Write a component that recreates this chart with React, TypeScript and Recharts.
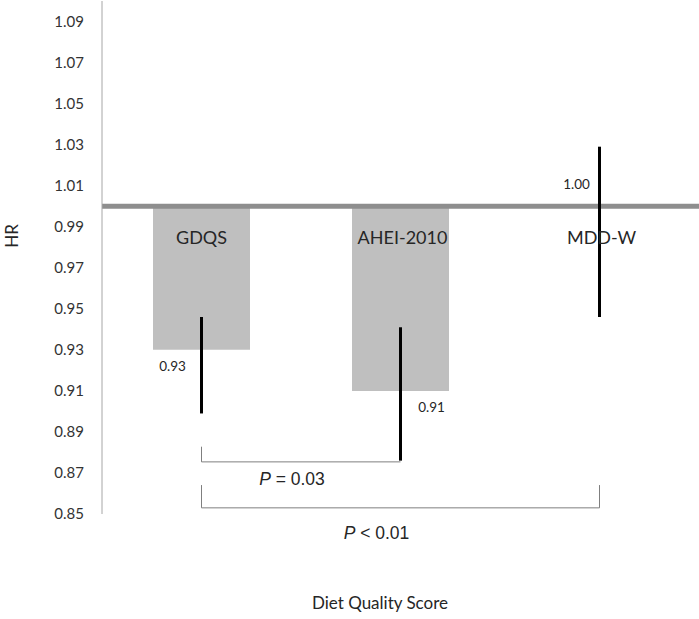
import React from "react";
import {
  ComposedChart,
  Bar,
  Line,
  XAxis,
  YAxis,
  ReferenceLine,
  ErrorBar,
  LabelList,
  Label,
} from "recharts";

// data
const categories = ["GDQS", "AHEI-2010", "MDD-W"];
const hrValues = [0.93, 0.91, 1.0];
const ciLow = [0.899, 0.876, 0.946];
const ciHigh = [0.946, 0.941, 1.029];
const hrLabels = ["0.93", "0.91", "1.00"];
const yTicks = [0.85, 0.87, 0.89, 0.91, 0.93, 0.95, 0.97, 0.99, 1.01, 1.03, 1.05, 1.07, 1.09];
const referenceHR = 1.0;

// comparison brackets: [from, to], line level, tick top, p text
const bracketPairs = [
  ["GDQS", "AHEI-2010"],
  ["GDQS", "MDD-W"],
];
const bracketLevels = [0.8754, 0.853];
const bracketTops = [0.8828, 0.8641];
const bracketTexts = ["= 0.03", "< 0.01"];

// where the small value labels sit relative to the HR point (px)
const valueLabelOffsets = [
  [-29, 16],
  [31, 16],
  [-23, -22],
];
const nameLabelOffsets = [0, 2, 2];
const pTextOffsets = [
  [-9, 17],
  [-24, 25],
];

const calibriLike = "Lato, 'Open Sans', sans-serif";
const arialLike = "'Liberation Sans', Arial, sans-serif";

const data = categories.map((name, i) => ({
  name,
  bar: [hrValues[i], referenceHR],
  hr: hrValues[i],
  baseHR: referenceHR,
  err: [hrValues[i] - ciLow[i], ciHigh[i] - hrValues[i]],
  label: hrLabels[i],
}));

function ValueLabel(props: any) {
  const { x, y, value, index } = props;
  const [dx, dy] = valueLabelOffsets[index] || [0, 0];
  return (
    <text
      x={x + dx}
      y={y + dy}
      textAnchor="middle"
      dominantBaseline="central"
      fontSize={13.5}
      fontFamily={calibriLike}
      fill="#262626"
    >
      {value}
    </text>
  );
}

function NameLabel(props: any) {
  const { x, y, value, index } = props;
  return (
    <text
      x={x + (nameLabelOffsets[index] || 0)}
      y={y + 31}
      textAnchor="middle"
      dominantBaseline="central"
      fontSize={18}
      fontFamily={calibriLike}
      fill="#262626"
    >
      {value}
    </text>
  );
}

function renderP(props: any, i: number) {
  const vb = props.viewBox || {};
  const [dx, dy] = pTextOffsets[i];
  return (
    <text
      x={vb.x + (vb.width || 0) / 2 + dx}
      y={vb.y + dy}
      textAnchor="middle"
      dominantBaseline="central"
      fontSize={17.5}
      fontFamily={arialLike}
      fill="#262626"
    >
      <tspan fontStyle="italic">P</tspan>
      {" " + bracketTexts[i]}
    </text>
  );
}

export default function App() {
  return (
    <div style={{ position: "absolute", left: 0, top: 0, background: "#fff" }}>
      <ComposedChart
        width={699}
        height={619}
        data={data}
        margin={{ top: 1, right: 0, left: 0, bottom: 0 }}
      >
        <XAxis
          dataKey="name"
          type="category"
          tick={false}
          tickLine={false}
          axisLine={false}
          height={105}
          label={
            <Label
              content={() => (
                <text
                  x={380}
                  y={602}
                  textAnchor="middle"
                  dominantBaseline="central"
                  fontSize={17}
                  fontFamily={calibriLike}
                  fill="#262626"
                >
                  Diet Quality Score
                </text>
              )}
            />
          }
        />
        <YAxis
          type="number"
          domain={[0.85, 1.1]}
          ticks={yTicks}
          allowDataOverflow
          width={102}
          tickSize={0}
          tickMargin={18}
          tickLine={false}
          axisLine={{ stroke: "#a6a6a6", strokeWidth: 1 }}
          tick={{ fontSize: 15, fontFamily: calibriLike, fill: "#333" }}
          tickFormatter={(v: number) => v.toFixed(2)}
          label={
            <Label
              content={() => (
                <text
                  x={11}
                  y={236}
                  transform="rotate(-90, 11, 236)"
                  textAnchor="middle"
                  dominantBaseline="central"
                  fontSize={17}
                  fontFamily={calibriLike}
                  fill="#262626"
                >
                  HR
                </text>
              )}
            />
          }
        />
        <Bar dataKey="bar" barSize={97} fill="#bfbfbf" isAnimationActive={false} />
        <ReferenceLine y={referenceHR} stroke="#8e8e8e" strokeWidth={5} />
        {bracketPairs.map(([from, to], i) => (
          <ReferenceLine
            key={"h" + i}
            segment={[
              { x: from, y: bracketLevels[i] },
              { x: to, y: bracketLevels[i] },
            ]}
            stroke="#7f7f7f"
            strokeWidth={1}
            ifOverflow="visible"
            label={<Label content={(p: any) => renderP(p, i)} />}
          />
        ))}
        <ReferenceLine
          segment={[
            { x: bracketPairs[0][0], y: bracketLevels[0] },
            { x: bracketPairs[0][0], y: bracketTops[0] },
          ]}
          stroke="#7f7f7f"
          strokeWidth={1}
        />
        <ReferenceLine
          segment={[
            { x: bracketPairs[1][0], y: bracketLevels[1] },
            { x: bracketPairs[1][0], y: bracketTops[1] },
          ]}
          stroke="#7f7f7f"
          strokeWidth={1}
        />
        <ReferenceLine
          segment={[
            { x: bracketPairs[1][1], y: bracketLevels[1] },
            { x: bracketPairs[1][1], y: bracketTops[1] },
          ]}
          stroke="#7f7f7f"
          strokeWidth={1}
        />
        <Line
          dataKey="baseHR"
          stroke="none"
          dot={false}
          activeDot={false}
          legendType="none"
          isAnimationActive={false}
        >
          <LabelList dataKey="name" content={<NameLabel />} />
        </Line>
        <Line
          dataKey="hr"
          stroke="none"
          dot={false}
          activeDot={false}
          legendType="none"
          isAnimationActive={false}
        >
          <ErrorBar dataKey="err" width={0} stroke="#000" strokeWidth={3} direction="y" />
          <LabelList dataKey="label" content={<ValueLabel />} />
        </Line>
      </ComposedChart>
    </div>
  );
}
